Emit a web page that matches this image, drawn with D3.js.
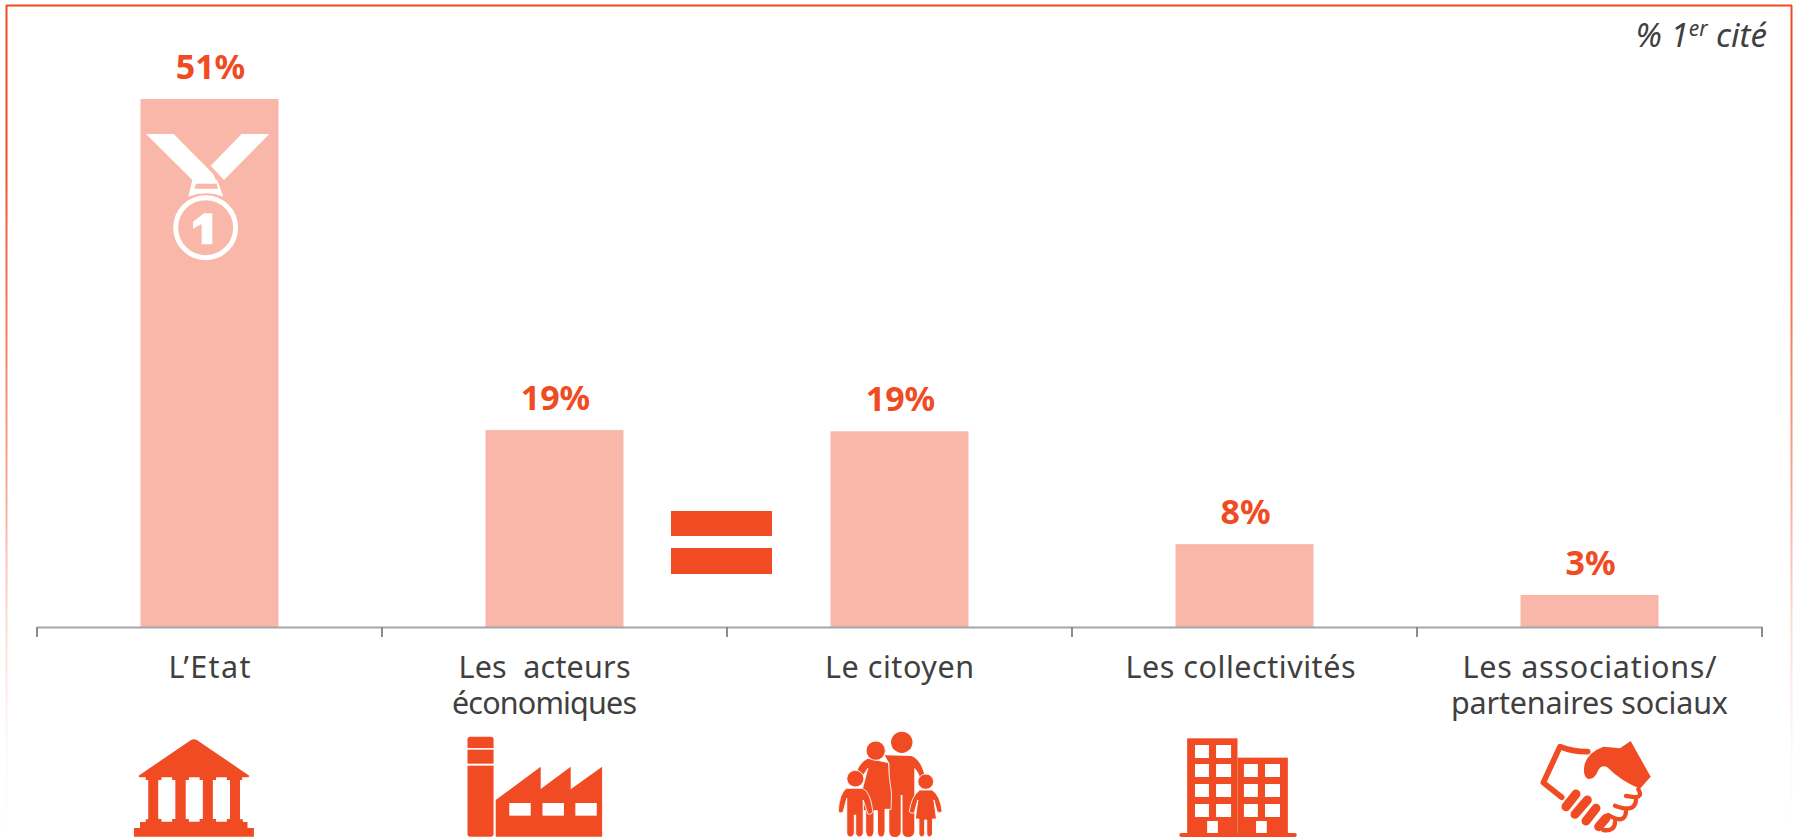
<!DOCTYPE html>
<html lang="fr"><head><meta charset="utf-8">
<script src="https://cdn.jsdelivr.net/npm/d3@7"></script>
<style>html,body{margin:0;background:#fff}svg{display:block}</style></head><body>
<svg id="c" width="1795" height="837"></svg>
<script>
const categories=[["L’Etat"],["Les  acteurs","économiques"],["Le citoyen"],["Les collectivités"],["Les associations/","partenaires sociaux"]];
const values=[51,19.02,18.9,8,3.1];
const orange="#f04b23", pale="#f8b7a8", grey="#404040";
const font="'Noto Sans',sans-serif";
const labelWidths=[[82],[172,185],[149],[230],[254,277]];
const labelShift=[0,-10,0,-4,0];
const svg=d3.select("#c");
const x=d3.scaleBand().domain(d3.range(5)).range([37,1762]).paddingInner(0.6).paddingOuter(0.3);
const y=d3.scaleLinear().domain([0,51]).range([627,99]);
// frame
const defs=svg.append("defs");
const lg=defs.append("linearGradient").attr("id","fade").attr("gradientUnits","userSpaceOnUse").attr("x1",0).attr("y1",5).attr("x2",0).attr("y2",837);
[[.17,1],[.57,.5],[.74,.2],[.88,.05],[1,0]].forEach(s=>lg.append("stop").attr("offset",s[0]).attr("stop-color",orange).attr("stop-opacity",s[1]));
svg.append("line").attr("x1",6).attr("x2",1792).attr("y1",5.5).attr("y2",5.5).attr("stroke",orange).attr("stroke-width",2);
svg.append("rect").attr("x",5.5).attr("y",5).attr("width",2).attr("height",832).attr("fill","url(#fade)");
svg.append("rect").attr("x",1790.5).attr("y",5).attr("width",2).attr("height",832).attr("fill","url(#fade)");
// bars
svg.selectAll("rect.b").data(values).join("rect").attr("class","b")
 .attr("x",(d,i)=>x(i)).attr("width",x.bandwidth()).attr("y",d=>y(d)).attr("height",d=>y(0)-y(d)).attr("fill",pale);
// axis
const ax=svg.append("g").attr("stroke","#a6a6a6").attr("stroke-width",2).attr("fill","none");
ax.append("line").attr("x1",37).attr("x2",1762).attr("y1",627.5).attr("y2",627.5);
ax.selectAll("line.t").data(d3.range(6)).join("line").attr("class","t")
 .attr("x1",i=>37+i*345).attr("x2",i=>37+i*345).attr("y1",627).attr("y2",637).attr("stroke","#8c8c8c");
// value labels
svg.selectAll("text.v").data(values).join("text").attr("class","v")
 .attr("x",(d,i)=>x(i)+x.bandwidth()/2+1).attr("y",d=>y(d)-20).attr("text-anchor","middle")
 .attr("font-family",font).attr("font-weight",700).attr("font-size",34).attr("fill",orange)
 .text(d=>d3.format(".0f")(d)+"%");
// category labels
categories.forEach((c,i)=>{c.forEach((s,j)=>{
 svg.append("text").attr("x",x(i)+x.bandwidth()/2+labelShift[i]).attr("y",678+j*36).attr("text-anchor","middle")
 .style("white-space","pre").attr("textLength",labelWidths[i][j]).attr("lengthAdjust","spacing")
 .attr("font-family",font).attr("font-size",30.5).attr("fill",grey).text(s);});});
// note
const n=svg.append("text").attr("x",1767).attr("y",47).attr("text-anchor","end").attr("font-family",font).attr("font-style","italic").attr("font-size",33).attr("fill",grey);
n.append("tspan").text("% 1");n.append("tspan").attr("dy",-11).attr("font-size",21).text("er");n.append("tspan").attr("dy",11).text(" cité");
// equals
svg.append("rect").attr("x",671).attr("y",511).attr("width",101).attr("height",25).attr("fill",orange);
svg.append("rect").attr("x",671).attr("y",548).attr("width",101).attr("height",26).attr("fill",orange);
// medal
const m=svg.append("g").attr("transform","translate(100,0) scale(.3333)").attr("fill","#fff");
m.append("path").attr("d","M138 402H221L340 522L352 550L277 540Z");
m.append("path").attr("d","M425 402H508L372 540L332 497Z");
m.append("path").attr("fill-rule","evenodd").attr("d","M277 540H352L370 590Q317 570 265 590ZM288 551L283 566H354L350 551Z");
m.append("circle").attr("cx",317).attr("cy",683).attr("r",90).attr("fill","none").attr("stroke","#fff").attr("stroke-width",15);
m.append("path").attr("d","M279 665L312 640H337V733H305V672L279 686Z");
const iconT=(tx)=>`translate(${tx},720) scale(.35714,.3333)`;
// bank
const b=svg.append("g").attr("transform",iconT(100)).attr("fill",orange);
b.append("path").attr("d","M255 60Q263 55 271 60L418 167L416 172H398V180H392V298H400V306H413V324H431V350H95V324H112V306H128V298H135V180H128V172H110L108 167Z");
[163,240,316].forEach(h=>b.append("path").attr("fill","#fff").attr("d",`M${h+9} 172H${h+39}V180H${h+48}V297H${h+39}V305H${h+9}V297H${h}V180H${h+9}Z`));
// factory
const f=svg.append("g").attr("transform",iconT(100)).attr("fill",orange);
f.append("rect").attr("x",1029).attr("y",50).attr("width",73).attr("height",300).attr("rx",8);
f.append("rect").attr("x",1025).attr("y",84).attr("width",80).attr("height",5).attr("fill","#fff");
f.append("rect").attr("x",1025).attr("y",131).attr("width",80).attr("height",6).attr("fill","#fff");
f.append("path").attr("d","M1108 240L1234 140V207L1318 140V208L1406 140V350H1108Z");
[1146,1239,1331].forEach(h=>f.append("rect").attr("x",h).attr("y",249).attr("width",60).attr("height",38).attr("fill","#fff"));
// family
const g=svg.append("g").attr("transform",iconT(800)).attr("fill",orange);
g.append("ellipse").attr("cx",285).attr("cy",67).attr("rx",30).attr("ry",32);
g.append("path").attr("d","M237 106L312 108Q338 118 350 170L338 178Q332 155 320 143V335Q318 351 303 351Q288 351 287 335V225H282V335Q280 351 266 351Q251 351 250 335V130Z");
g.append("path").attr("stroke","#fff").attr("stroke-width",2.5).attr("d","M190 115L248 128L250 170Q260 220 255 268H238V335Q236 351 228 351Q218 351 217 335V272H207V335Q205 351 195 351Q186 351 184 335V272H178L175 205L190 145L178 165L160 150Q170 125 190 115Z");
g.append("ellipse").attr("cx",212).attr("cy",92).attr("rx",27).attr("ry",29).attr("stroke","#fff").attr("stroke-width",2.5);
g.append("path").attr("stroke","#fff").attr("stroke-width",2.5).attr("d","M130 205H175Q198 215 204 275Q200 285 190 282L177 240V340Q175 351 166 351Q157 351 156 340V285H152V340Q150 351 141 351Q132 351 131 340V235L121 275Q115 283 107 275Q110 220 130 205Z");
g.append("ellipse").attr("cx",155).attr("cy",176).attr("rx",24).attr("ry",25).attr("stroke","#fff").attr("stroke-width",2.5);
g.append("path").attr("stroke","#fff").attr("stroke-width",2.5).attr("d","M335 210H370Q392 225 398 273Q392 283 384 275L375 240L382 297H371V342Q368 351 362 351Q356 351 355 342V300H349V342Q347 351 341 351Q335 351 333 342V297H323L330 240L320 278Q314 284 306 275Q312 228 335 210Z");
g.append("ellipse").attr("cx",352).attr("cy",185).attr("rx",22).attr("ry",23).attr("stroke","#fff").attr("stroke-width",2.5);
// buildings
const h=svg.append("g").attr("transform",iconT(800)).attr("fill",orange);
h.append("rect").attr("x",1084).attr("y",55).attr("width",141).attr("height",288);
h.append("rect").attr("x",1225).attr("y",113).attr("width",141).attr("height",230);
h.append("rect").attr("x",1062).attr("y",339).attr("width",329).attr("height",12).attr("rx",6);
[75,132,192,252].forEach(r=>[1106,1165].forEach(c=>h.append("rect").attr("x",c).attr("y",r).attr("width",c==1106?39:42).attr("height",39).attr("fill","#fff")));
[132,192,252].forEach(r=>[1243,1302].forEach(c=>h.append("rect").attr("x",c).attr("y",r).attr("width",c==1243?39:42).attr("height",39).attr("fill","#fff")));
[1140,1277].forEach(c=>h.append("rect").attr("x",c).attr("y",303).attr("width",30).attr("height",36).attr("fill","#fff"));
// handshake
const s=svg.append("g").attr("transform","translate(1500,720) scale(.3333)");
s.append("path").attr("d","M263 95Q220 96 180 80L130 188L185 232").attr("fill","none").attr("stroke",orange).attr("stroke-width",17).attr("stroke-linecap","round").attr("stroke-linejoin","round");
s.append("path").attr("fill",orange).attr("d","M392 63L452 170L420 206Q365 185 322 142Q305 132 295 150Q285 178 265 177Q250 172 252 145Q256 100 310 80L360 85Z");
[[228,222,198,260],[262,240,225,283],[288,265,258,303],[318,295,296,320]].forEach(l=>s.append("line").attr("x1",l[0]).attr("y1",l[1]).attr("x2",l[2]).attr("y2",l[3]).attr("stroke",orange).attr("stroke-width",27).attr("stroke-linecap","round"));
s.append("path").attr("d","M415 208Q435 240 378 228M408 240Q405 280 345 257M378 275Q375 315 325 285M345 305Q345 335 310 330").attr("fill","none").attr("stroke",orange).attr("stroke-width",13).attr("stroke-linecap","round");
</script></body></html>
